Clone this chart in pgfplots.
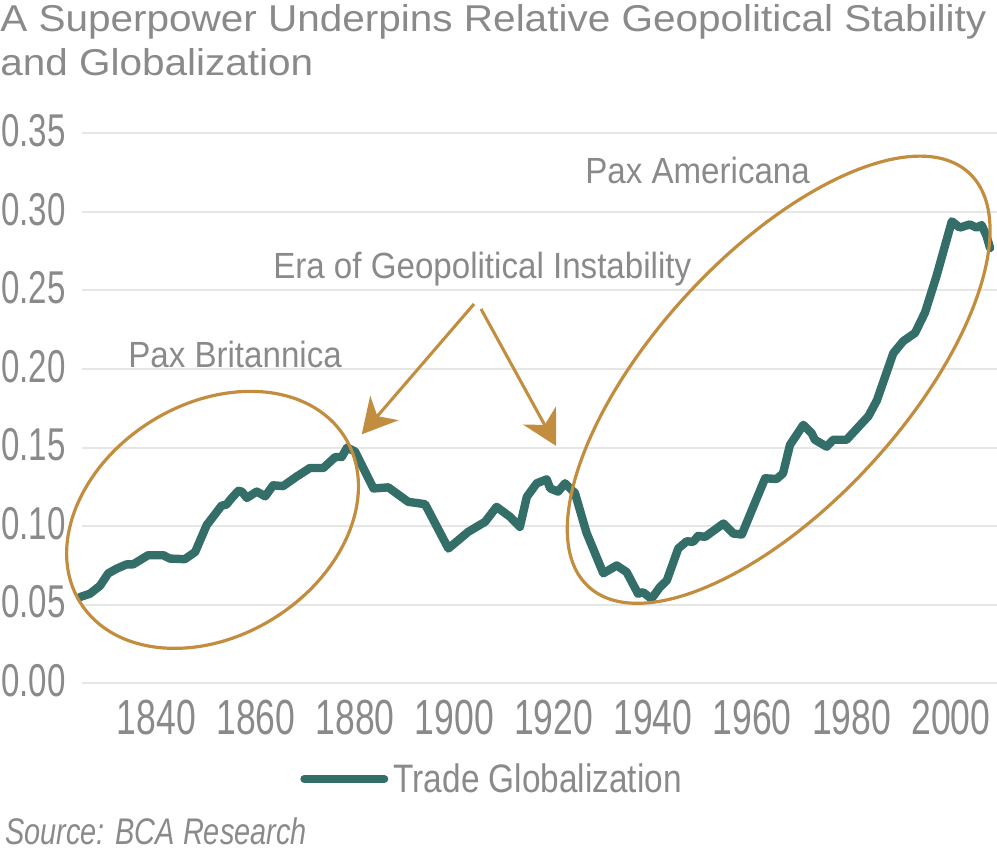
\documentclass[border=0pt]{standalone}
\usepackage{pgfplots}
\pgfplotsset{compat=1.18}
\usepackage{fontspec}
\usetikzlibrary{arrows.meta}
\setmainfont{Liberation Sans}
\newfontfamily\tickfont{Liberation Sans}[FakeStretch=0.72]
\newfontfamily\annfont{Liberation Sans}[FakeStretch=0.91]
\newfontfamily\titlefont{Liberation Sans}[FakeStretch=1.085]
\newfontfamily\legfont{Liberation Sans}[FakeStretch=0.84]
\newfontfamily\srcfont{Liberation Sans}[FakeStretch=0.78]
\definecolor{teal1}{HTML}{346E68}
\definecolor{gold1}{HTML}{C38D3F}
\definecolor{txtg}{HTML}{8A8A8A}
\definecolor{gridg}{HTML}{E6E6E6}
\begin{document}
\begin{tikzpicture}
\path[use as bounding box] (-61.5pt,-134pt) rectangle (686.25pt,512.5pt);
\begin{axis}[at={(0pt,0pt)}, anchor=south west, scale only axis,
  width=686.25pt, height=412.5pt,
  xmin=1825, xmax=2009.3, ymin=0, ymax=0.35, clip=false,
  axis line style={draw=none}, tick style={draw=none},
  ymajorgrids, major grid style={gridg, line width=1.5pt},
  xtick={1840,1860,1880,1900,1920,1940,1960,1980,2000},
  xticklabels={1840,1860,1880,1900,1920,1940,1960,1980,2000},
  ytick={0,0.05,0.1,0.15,0.2,0.25,0.3,0.35},
  yticklabels={0.00,0.05,0.10,0.15,0.20,0.25,0.30,0.35},
  yticklabel style={font=\tickfont\fontsize{34.5pt}{36pt}\selectfont, text=txtg, inner sep=0pt, anchor=east, xshift=-12pt, yshift=2pt},
  xticklabel style={font=\tickfont\fontsize{37pt}{38pt}\selectfont, text=txtg, inner sep=0pt, anchor=north, yshift=-12pt},
  legend style={at={(axis description cs:0.2383,-0.174)}, anchor=west, draw=none, fill=none, inner sep=0pt,
    font=\legfont\fontsize{29.8pt}{30pt}\selectfont, text=txtg, column sep=2pt},
  legend image code/.code={\draw[#1, line width=6pt, line cap=round] (0pt,0pt) -- (60pt,0pt);},
]
\addplot[teal1, line width=6.3pt, line join=round, line cap=round] coordinates {
(1824.6,0.0549) (1826.6,0.057) (1828.6,0.062) (1830.3,0.070) (1832.0,0.073)
(1834.0,0.0757) (1835.3,0.0757) (1838.3,0.0815) (1841.4,0.0815) (1842.7,0.0794)
(1845.7,0.079) (1847.8,0.0836) (1850.1,0.1006) (1853.1,0.113) (1854.1,0.1138)
(1855.1,0.1177) (1856.5,0.1225) (1857.2,0.122) (1858.2,0.118) (1860.2,0.122)
(1861.9,0.119) (1863.5,0.126) (1865.5,0.1255) (1868.2,0.1315) (1870.9,0.137)
(1873.6,0.137) (1876.0,0.144) (1877.3,0.144) (1878.4,0.150) (1880.0,0.1475)
(1883.7,0.124) (1886.7,0.1247) (1890.7,0.1155) (1894.1,0.114) (1898.8,0.0858)
(1902.8,0.0964) (1906.2,0.1028) (1908.5,0.1123) (1911.2,0.106) (1913.2,0.0996)
(1914.6,0.1187) (1916.6,0.1273) (1918.6,0.1298) (1919.3,0.124) (1920.9,0.122)
(1922.3,0.1273) (1924.3,0.121) (1926.6,0.096) (1930.0,0.070) (1932.7,0.075)
(1934.7,0.0708) (1937.0,0.057) (1938.0,0.058) (1939.7,0.0538) (1941.4,0.0612)
(1942.8,0.0655) (1945.1,0.0858) (1946.8,0.0904) (1948.1,0.090) (1949.1,0.0938)
(1950.5,0.0932) (1954.2,0.1017) (1956.2,0.0953) (1957.9,0.0947) (1960.2,0.1123)
(1962.6,0.1305) (1964.9,0.130) (1966.2,0.1336) (1967.6,0.1517) (1970.3,0.1645)
(1972.0,0.159) (1972.6,0.155) (1975.0,0.1506) (1976.3,0.155) (1979.0,0.155)
(1983.4,0.170) (1985.1,0.180) (1988.4,0.210) (1990.4,0.2177) (1992.8,0.223)
(1994.8,0.236) (1997.1,0.259) (2000.2,0.294) (2001.8,0.290) (2003.8,0.292)
(2005.2,0.290) (2006.2,0.2916) (2007.2,0.2847) (2007.9,0.277)
};
\addlegendentry{Trade Globalization}
\end{axis}
% ellipses
\draw[gold1, line width=2.4pt] (97.9pt,122.6pt) ellipse[x radius=117pt, y radius=87pt, rotate=32];
\draw[gold1, line width=2.4pt] (522.5pt,227.7pt) ellipse[x radius=210.8pt, y radius=93.8pt, rotate=47.4];
% arrows
\draw[gold1, line width=2.3pt, -{Stealth[length=26pt, width=28pt, inset=8pt]}] (294pt,284.5pt) -- (209.8pt,186.75pt);
\draw[gold1, line width=2.3pt, -{Stealth[length=26pt, width=28pt, inset=8pt]}] (299.25pt,280.8pt) -- (355.65pt,178pt);
% texts
\node[anchor=base west, inner sep=0pt, text=txtg, font=\titlefont\fontsize{28pt}{30pt}\selectfont] at (-61.5pt,488.5pt) {A Superpower Underpins Relative Geopolitical Stability};
\node[anchor=base west, inner sep=0pt, text=txtg, font=\titlefont\fontsize{28pt}{30pt}\selectfont] at (-61.5pt,456.2pt) {and Globalization};
\node[anchor=base west, inner sep=0pt, text=txtg, font=\annfont\fontsize{27.3pt}{29pt}\selectfont] at (34.5pt,236.5pt) {Pax Britannica};
\node[anchor=base west, inner sep=0pt, text=txtg, font=\annfont\fontsize{27.3pt}{29pt}\selectfont] at (143.25pt,303.75pt) {Era of Geopolitical Instability};
\node[anchor=base west, inner sep=0pt, text=txtg, font=\annfont\fontsize{27.3pt}{29pt}\selectfont] at (377.25pt,375pt) {Pax Americana};
\node[anchor=base west, inner sep=0pt, text=txtg, font=\srcfont\itshape\fontsize{27.8pt}{29pt}\selectfont] at (-57.75pt,-121.2pt) {Source: BCA Research};
\end{tikzpicture}
\end{document}
